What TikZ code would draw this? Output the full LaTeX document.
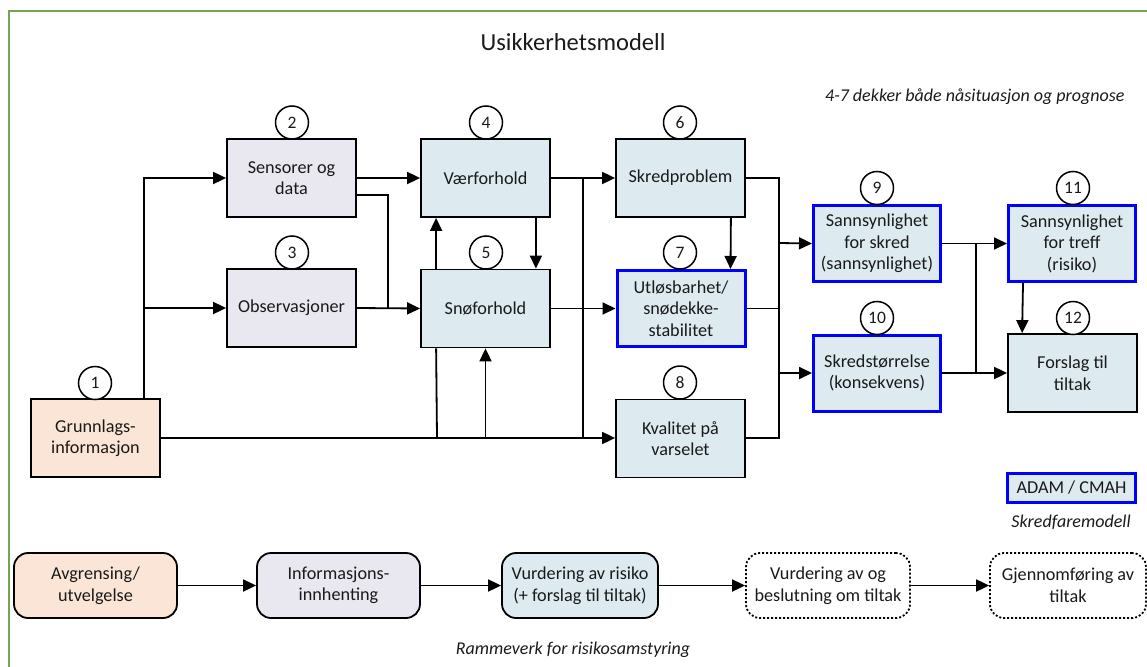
\documentclass[tikz,border=0pt]{standalone}
\usepackage{fontspec}
\setmainfont{Carlito}
\usetikzlibrary{arrows.meta,calc}
\definecolor{peach}{HTML}{FBE5D6}
\definecolor{lav}{HTML}{E9E7F0}
\definecolor{lblue}{HTML}{DDEBF1}
\definecolor{frameg}{HTML}{76A35A}
\definecolor{bblue}{HTML}{0000FF}
\definecolor{txt}{HTML}{1A1A1A}
\begin{document}
\begin{tikzpicture}[x=1pt,y=-1pt,
  every node/.style={text=txt},
  box/.style={draw=black, line width=1.8pt, minimum width=129pt, minimum height=78pt,
    inner sep=1pt, align=center, font=\fontsize{18.2}{21.5}\selectfont},
  adam/.style={box, draw=bblue, line width=3pt, fill=lblue},
  num/.style={draw=black, circle, fill=white, line width=1.5pt, minimum size=33pt, inner sep=0pt,
    font=\fontsize{17.5}{19}\selectfont},
  rbox/.style={draw=black, line width=1.8pt, rounded corners=14pt, minimum width=163pt, minimum height=65pt,
    inner sep=1pt, align=center, font=\fontsize{18.2}{21.5}\selectfont},
  dbox/.style={rbox, dash pattern=on 2pt off 2pt},
  ln/.style={line width=1.8pt, draw=black},
  arr/.style={ln, -{Triangle[length=13pt,width=12pt]}},
  note/.style={font=\fontsize{18}{20}\selectfont\itshape},
]
\useasboundingbox (0,0) rectangle (1147,666);
% frame
\draw[frameg, line width=1.5pt] (9,667) -- (9,11) -- (1148,11);

\node[font=\fontsize{24.5}{28}\selectfont] (title) at (573,42) {Usikkerhetsmodell};
\node[note, anchor=east] (n47) at (1128,97) {4-7 dekker både nåsituasjon og prognose};

% boxes
\node[box, fill=peach] (b1) at (95.5,438) {Grunnlags-\\informasjon};
\node[box, fill=lav] (b2) at (291.5,178) {Sensorer og\\data};
\node[box, fill=lav] (b3) at (291.5,308) {Observasjoner};
\node[box, fill=lblue] (b4) at (485.5,178) {Værforhold};
\node[box, fill=lblue] (b5) at (485.5,308.5) {Snøforhold};
\node[box, fill=lblue] (b6) at (680.5,178) {Skredproblem};
\node[adam, minimum width=128pt, minimum height=76pt] (b7) at (681,308.5) {Utløsbarhet/\\snødekke-\\stabilitet};
\node[box, fill=lblue] (b8) at (680.5,438.5) {Kvalitet på\\varselet};
\node[adam, minimum width=127pt, minimum height=76pt] (b9) at (877,243.5) {Sannsynlighet\\for skred\\(sannsynlighet)};
\node[adam, minimum width=127pt, minimum height=76pt] (b10) at (877,373) {Skredstørrelse\\(konsekvens)};
\node[adam, minimum width=127pt, minimum height=76pt] (b11) at (1072,243.5) {Sannsynlighet\\for treff\\(risiko)};
\node[box, fill=lblue] (b12) at (1072.5,373) {Forslag til\\tiltak};

% numbers
\node[num] (c1) at (95,383) {1};
\node[num] (c2) at (292,122.5) {2};
\node[num] (c3) at (292,252.5) {3};
\node[num] (c4) at (486,122.5) {4};
\node[num] (c5) at (486,252.5) {5};
\node[num] (c6) at (680,122.5) {6};
\node[num] (c7) at (680,252.5) {7};
\node[num] (c8) at (680,382.5) {8};
\node[num] (c9) at (877,188) {9};
\node[num] (c10) at (877,318) {10};
\node[num] (c11) at (1073,188) {11};
\node[num] (c12) at (1073,318) {12};

% junctions
\coordinate (j1) at (144,308);
\coordinate (j2) at (388,308);
\coordinate (j3) at (583,178);
\coordinate (j4) at (583,438);
\coordinate (j5) at (437,438);
\coordinate (j6) at (779,178);
\coordinate (j7) at (779,438);
\coordinate (j8) at (779,243);
\coordinate (j9) at (779,373);
\coordinate (j10) at (976,243);
\coordinate (j11) at (976,373);

% connectors
\draw[arr] (b1.north -| j1) |- (b2.west);
\draw[arr] (j1) -- (b3.west);
\draw[arr] (b1.east |- j4) -- (b8.west |- j4);
\draw[arr] (b2.east) -- (b4.west);
\draw[ln] ([yshift=-17pt]b2.east) -| (j2);
\draw[arr] (b3.east) -- (b5.west);
\draw[arr] (b4.east) -- (b6.west);
\draw[ln] (j3) -- (j4);
\draw[arr] ($(b4.south east)+(-15,0)$) -- ($(b5.north east)+(-15,0)$);
\draw[arr] ($(b5.north west)+(16,0)$) -- ($(b4.south west)+(16,0)$);
\draw[ln] ($(b5.south west)+(16,0)$) -- (j5);
\draw[arr] (b5.south |- j4) -- (b5.south);
\draw[arr] (b5.east) -- (b7.west);
\draw[arr] ($(b6.south east)+(-15,0)$) -- ($(b7.north east)+(-16,0)$);
\draw[ln] (b6.east) -- (j6) -- (j7) -- (b8.east |- j7);
\draw[ln] (b7.east) -- (b7.east -| j6);
\draw[arr] (j8) -- (b9.west);
\draw[arr] (j9) -- (b10.west);
\draw[arr] (b9.east) -- (b11.west);
\draw[ln] (j10) -- (j11);
\draw[arr] (b10.east) -- (b12.west);
\draw[arr] ($(b11.south west)+(16,0)$) -- ($(b12.north west)+(15,0)$);

% legend
\node[adam, minimum width=128pt, minimum height=29pt, inner sep=1pt] (leg) at (1071.5,488) {ADAM / CMAH};
\node[note] (legt) at (1071,522) {Skredfaremodell};

% bottom row
\node[rbox, fill=peach] (r1) at (95.5,585.5) {Avgrensing/\\utvelgelse};
\node[rbox, fill=lav] (r2) at (338.5,585.5) {Informasjons-\\innhenting};
\node[rbox, fill=lblue, minimum width=156pt] (r3) at (580,585.5) {Vurdering av risiko\\(+ forslag til tiltak)};
\node[dbox, fill=white, minimum width=164pt] (r4) at (828,585.5) {Vurdering av og\\beslutning om tiltak};
\node[dbox, fill=white, minimum width=156pt] (r5) at (1068,585.5) {Gjennomføring av\\tiltak};
\draw[arr] (r1) -- (r2);
\draw[arr] (r2) -- (r3);
\draw[arr] (r3) -- (r4);
\draw[arr] (r4) -- (r5);
\node[note] (ramme) at (573,650) {Rammeverk for risikosamstyring};
\end{tikzpicture}
\end{document}
